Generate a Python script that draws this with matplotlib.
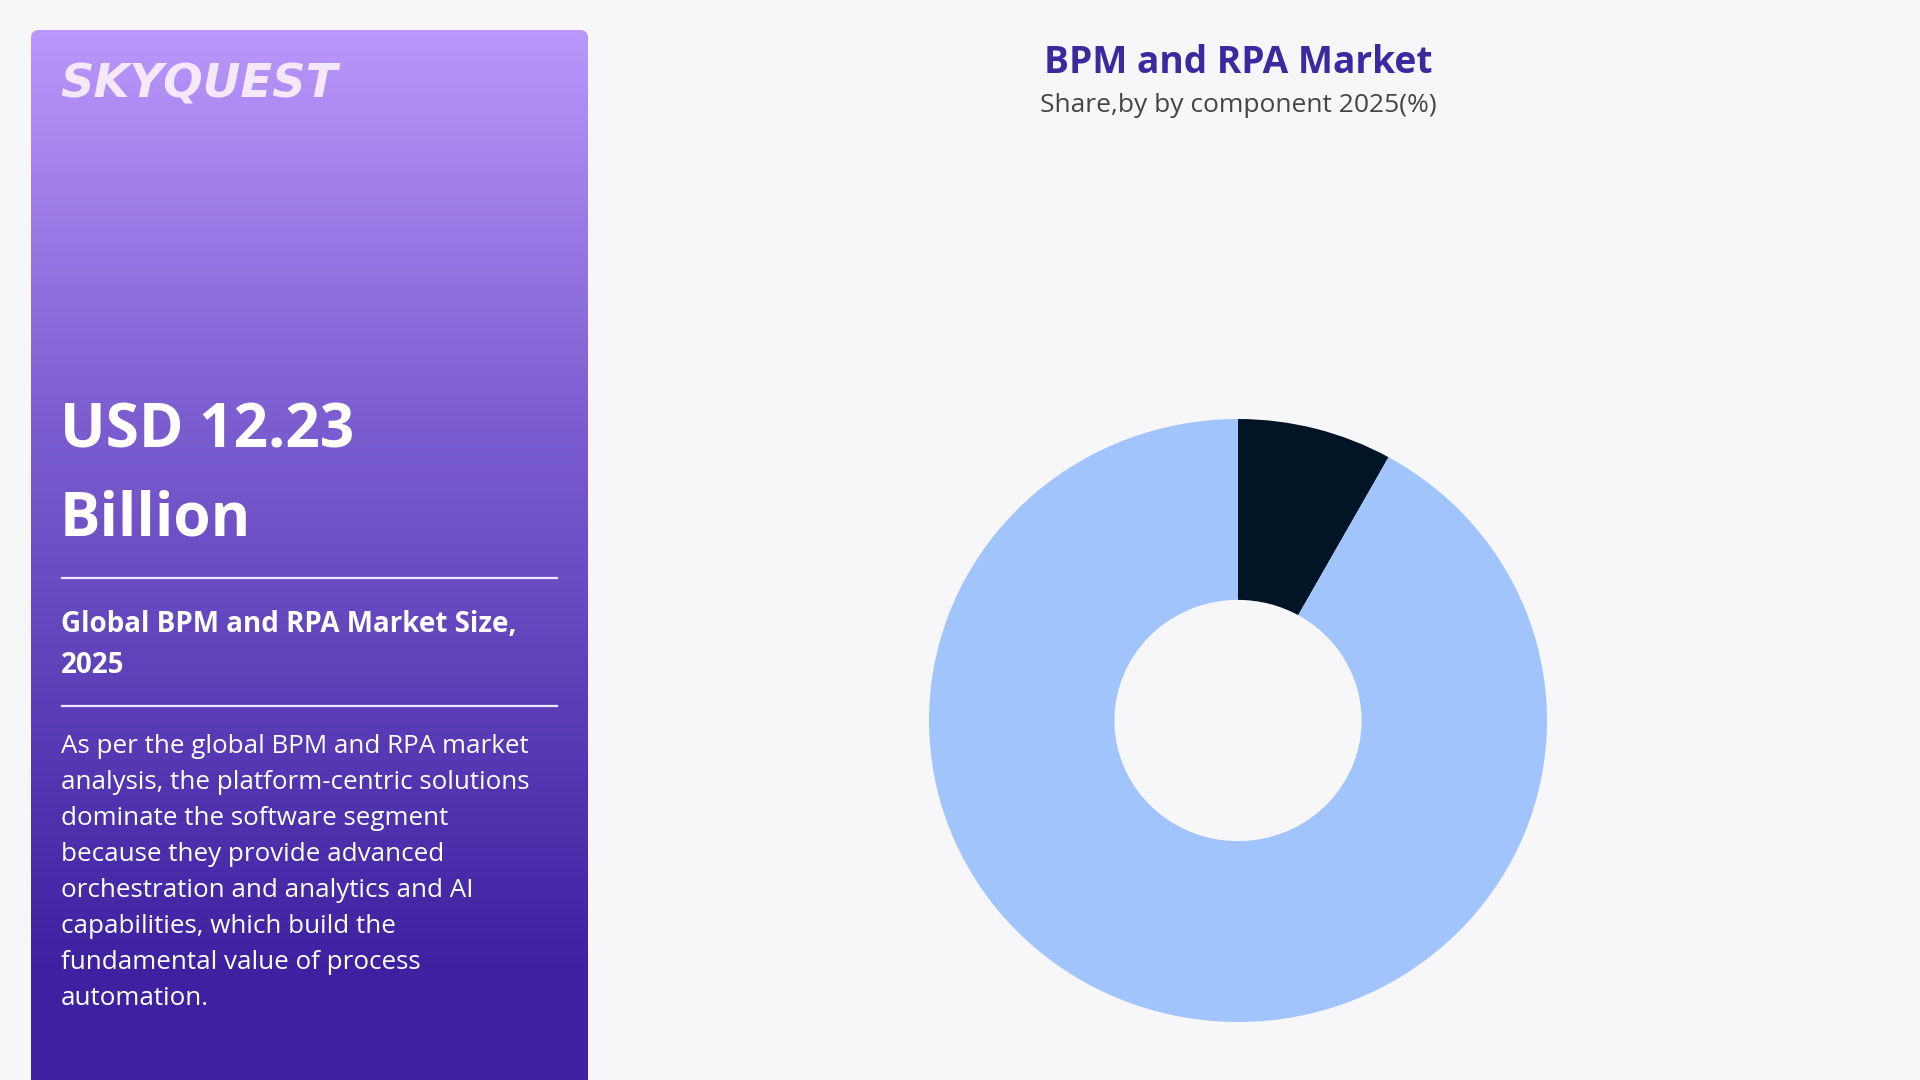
import matplotlib
matplotlib.use("Agg")
import matplotlib.pyplot as plt
import numpy as np
from matplotlib.patches import FancyBboxPatch

# data
components = ["Services", "Software"]
shares = [8.1, 91.9]
slice_colors = ["#021526", "#a2c4fd"]

title = "BPM and RPA Market"
subtitle = "Share,by by component 2025(%)"
headline = ["USD 12.23", "Billion"]
market_label = ["Global BPM and RPA Market Size,", "2025"]
blurb = [
    "As per the global BPM and RPA market",
    "analysis, the platform-centric solutions",
    "dominate the software segment",
    "because they provide advanced",
    "orchestration and analytics and AI",
    "capabilities, which build the",
    "fundamental value of process",
    "automation.",
]

FONT = ["Open Sans", "DejaVu Sans"]
plt.rcParams["font.family"] = FONT

W, H = 1920, 1080
fig = plt.figure(figsize=(W / 100, H / 100), dpi=100)
fig.patch.set_facecolor("#f7f7f9")

# pixel-space canvas for the side panel and titles
bg = fig.add_axes([0, 0, 1, 1])
bg.set_xlim(0, W)
bg.set_ylim(H, 0)
bg.axis("off")

# gradient side panel with rounded top corners
px0, px1, py0, py1 = 31, 588, 30, 1100
top_c = np.array([0xba, 0x97, 0xfb]) / 255
mid_c = np.array([0x80, 0x62, 0xd4]) / 255
bot_c = np.array([0x3d, 0x21, 0xa0]) / 255
t = np.linspace(0, 1, 256)[:, None]
grad = np.where(
    t < 0.33,
    top_c + (mid_c - top_c) * (t / 0.33),
    mid_c + (bot_c - mid_c) * np.clip((t - 0.33) / 0.55, 0, 1),
)
grad = np.clip(grad, 0, 1)[:, None, :]
img = bg.imshow(grad, extent=[px0, px1, py1, py0], aspect="auto", zorder=1)
clip = FancyBboxPatch((px0, py0), px1 - px0, py1 - py0,
                      boxstyle="round,pad=0,rounding_size=8",
                      facecolor="none", edgecolor="none", transform=bg.transData)
bg.add_patch(clip)
img.set_clip_path(clip)

bg.text(60, 98, "SKYQUEST", fontsize=33.5, fontweight="heavy", fontstyle="italic",
        color="#f6e8fc", family=["DejaVu Sans"], va="baseline", zorder=3)

bg.text(60, 447, headline[0], fontsize=43.5, fontweight="bold", color="white",
        va="baseline", zorder=3)
bg.text(60, 535, headline[1], fontsize=43.5, fontweight="bold", color="white",
        va="baseline", zorder=3)

bg.plot([62, 557], [578, 578], color="#ece6ff", lw=1.6, zorder=3)
bg.text(61, 632, market_label[0], fontsize=20, fontweight="bold", color="white",
        va="baseline", zorder=3)
bg.text(61, 673, market_label[1], fontsize=20, fontweight="bold", color="white",
        va="baseline", zorder=3)
bg.plot([62, 557], [706, 706], color="#ece6ff", lw=1.6, zorder=3)

for i, line in enumerate(blurb):
    bg.text(61, 753 + 36 * i, line, fontsize=18.7, color="white",
            va="baseline", zorder=3)

bg.text(1238, 73, title, fontsize=26.7, fontweight="bold", color="#3b29a0",
        ha="center", va="baseline", zorder=3)
bg.text(1238, 112, subtitle, fontsize=19, color="#454545",
        ha="center", va="baseline", zorder=3)

# donut
cx0, cx1, cy0, cy1 = 929, 1547, 419, 1022
ax = fig.add_axes([cx0 / W, 1 - cy1 / H, (cx1 - cx0) / W, (cy1 - cy0) / H])
ax.pie(shares, colors=slice_colors, startangle=90, counterclock=False,
       radius=1, wedgeprops=dict(width=0.6, edgecolor="none"))
ax.set_aspect("auto")
ax.set_xlim(-1, 1)
ax.set_ylim(-1, 1)
ax.axis("off")

fig.savefig("out.png", dpi=100, facecolor=fig.get_facecolor())
